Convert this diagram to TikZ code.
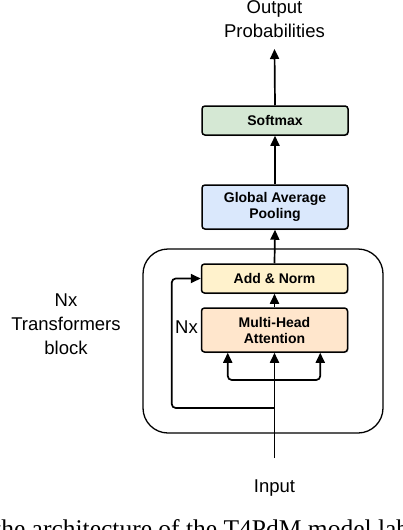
\documentclass[tikz,border=0pt]{standalone}
\usepackage{fontspec}
\setmainfont{Liberation Sans}
\newfontfamily\capfont{Liberation Serif}
\usetikzlibrary{arrows.meta,shadows}
\definecolor{smgreen}{HTML}{D5E8D4}
\definecolor{gapblue}{HTML}{DAE8FC}
\definecolor{normyellow}{HTML}{FFF2CC}
\definecolor{attorange}{HTML}{FFE6CC}
\begin{document}
\begin{tikzpicture}[x=1pt,y=-1pt,>={Triangle[width=9pt,length=10pt]},
layer/.style={draw,line width=1.5pt,rounded corners=3pt,minimum width=146pt,align=center,
 font=\bfseries\fontsize{14}{16}\selectfont,
 drop shadow={shadow xshift=1pt,shadow yshift=-1pt,opacity=0.35}},
lbl/.style={align=center,font=\fontsize{18.5}{24}\selectfont},
flow/.style={line width=1.7pt,->}]
\useasboundingbox(0,0)rectangle(402,530);
\clip(0,0)rectangle(402,530);
% block around the repeated layers
\node[draw,line width=1.3pt,rounded corners=25pt,minimum width=240pt,minimum height=184pt](block)at(263,341){};
\node[layer,fill=smgreen,minimum height=29pt](softmax)at(275,120.5){Softmax};
\node[layer,fill=gapblue,minimum height=44pt](gap)at(275,207){Global Average\\Pooling};
\node[layer,fill=normyellow,minimum height=29pt](addnorm)at(274.5,278.5){Add \& Norm};
\node[layer,fill=attorange,minimum height=44pt](mha)at(274.5,330){Multi-Head\\Attention};
\node[lbl,anchor=south,inner xsep=0pt,inner ysep=11pt](output)at(274.5,49){Output\\Probabilities};
\node[lbl,anchor=north,inner xsep=0pt,inner ysep=0pt](input)at(274.5,458){\rule{0pt}{34pt}Input};
\node[lbl,anchor=east,inner sep=1pt](nx)at(199,327){Nx};
\node[lbl](nxlabel)at(66,324){Nx\\Transformers\\block};
\node[font=\capfont\fontsize{25.5}{30}\selectfont,anchor=base west,inner sep=0pt](caption)at(-6,537){the architecture of the T4PdM model lab};
\coordinate(res)at(274.5,408);
\coordinate(split)at(274.5,380);
% connectors
\draw[flow](softmax.north)--(output.south);
\draw[flow](gap.north)--(softmax.south);
\draw[flow](addnorm.north)--(gap.south);
\draw[flow](mha.north)--(addnorm.south);
\draw[line width=1.7pt](input.north)--(res)--(split);
\draw[flow](split)--(mha.south);
\draw[flow,rounded corners=4pt](split)-|([xshift=27pt]mha.south west);
\draw[flow,rounded corners=4pt](split)-|([xshift=-28pt]mha.south east);
\draw[flow,rounded corners=4pt](res)-|([xshift=-29pt]addnorm.west)--(addnorm.west);
\end{tikzpicture}
\end{document}
